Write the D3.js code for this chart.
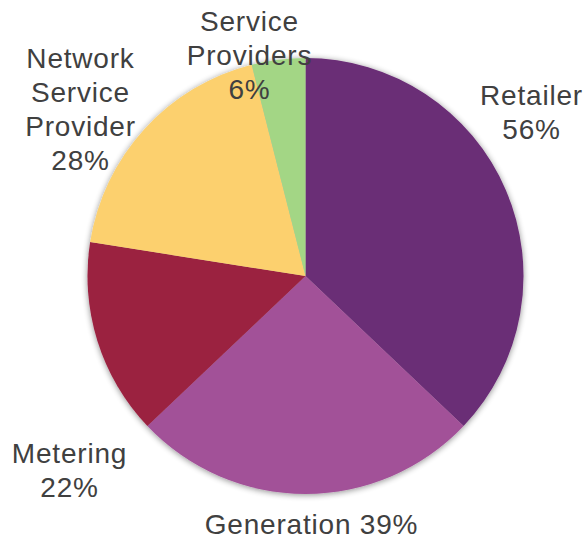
<!DOCTYPE html>
<html>
<head>
<meta charset="utf-8">
<script src="https://cdn.jsdelivr.net/npm/d3@7"></script>
<style>
  html, body { margin: 0; padding: 0; background: #ffffff; }
  svg { display: block; }
  text { font-family: "Liberation Sans", Arial, sans-serif; fill: #404040; }
</style>
</head>
<body>
<svg id="chart" width="587" height="540"></svg>
<script>
// Share of participants by market role
const categories = ["Retailer", "Generation", "Metering", "Network Service Provider", "Service Providers"];
const values = [56, 39, 22, 28, 6];
const labelLines = [
  ["Retailer", "56%"],
  ["Generation 39%"],
  ["Metering", "22%"],
  ["Network", "Service", "Provider", "28%"],
  ["Service", "Providers", "6%"]
];
const colors = ["#6b2d76", "#a25198", "#9b2040", "#fcd06e", "#a3d685"];

const width = 587, height = 540;
const cx = 305.5, cy = 276, radius = 218;
const fontSize = 28, lineHeight = 34;

// Label block centres, relative to the pie centre
const labelOffset = {
  "Retailer": [226, -164],
  "Generation": [6, 248],
  "Metering": [-236, 194],
  "Network Service Provider": [-225, -167.5],
  "Service Providers": [-56, -221]
};

const svg = d3.select("#chart");

const defs = svg.append("defs");
const shadow = defs.append("filter")
  .attr("id", "pieShadow")
  .attr("x", "-20%").attr("y", "-20%")
  .attr("width", "140%").attr("height", "140%");
shadow.append("feGaussianBlur").attr("in", "SourceAlpha").attr("stdDeviation", 3).attr("result", "blur");
shadow.append("feOffset").attr("in", "blur").attr("dx", 0).attr("dy", 1).attr("result", "off");
shadow.append("feComponentTransfer").attr("in", "off").attr("result", "soft")
  .append("feFuncA").attr("type", "linear").attr("slope", 0.45);
const merge = shadow.append("feMerge");
merge.append("feMergeNode").attr("in", "soft");
merge.append("feMergeNode").attr("in", "SourceGraphic");

const color = d3.scaleOrdinal().domain(categories).range(colors);

const pie = d3.pie()
  .value((d, i) => values[i])
  .sort(null)
  .startAngle(0)
  .endAngle(2 * Math.PI);

const arcs = pie(categories);
const arc = d3.arc().innerRadius(0).outerRadius(radius);

const g = svg.append("g").attr("transform", `translate(${cx},${cy})`);

g.append("g")
  .attr("filter", "url(#pieShadow)")
  .selectAll("path")
  .data(arcs)
  .join("path")
  .attr("d", arc)
  .attr("fill", d => color(d.data));

g.append("g")
  .selectAll("text")
  .data(arcs)
  .join("text")
  .attr("text-anchor", "middle")
  .attr("font-size", fontSize)
  .attr("letter-spacing", 0.8)
  .each(function(d, i) {
    const lines = labelLines[i];
    const [ox, oy] = labelOffset[d.data];
    const firstBaseline = oy - (lines.length - 1) * lineHeight / 2 + fontSize * 0.36;
    d3.select(this).selectAll("tspan")
      .data(lines)
      .join("tspan")
      .attr("x", ox)
      .attr("y", (t, j) => firstBaseline + j * lineHeight)
      .text(t => t);
  });
</script>
</body>
</html>
